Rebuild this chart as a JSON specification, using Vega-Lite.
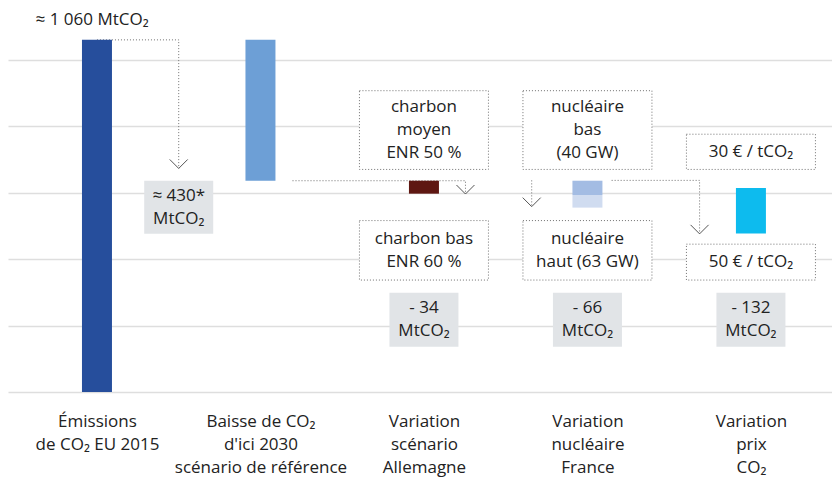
{
  "$schema": "https://vega.github.io/schema/vega-lite/v6.json",
  "width": 824,
  "height": 392,
  "padding": {"left": 8, "top": 0, "right": 0, "bottom": 20},
  "background": "white",
  "config": {
    "view": {"stroke": null},
    "font": "Open Sans",
    "text": {"font": "Open Sans", "fontSize": 17, "color": "#222222"}
  },
  "datasets": {
    "bars": [
      {"cat": 1, "lo": 0, "hi": 1060, "part": "Émissions 2015"},
      {"cat": 2, "lo": 636, "hi": 1060, "part": "Baisse référence"},
      {"cat": 3, "lo": 597, "hi": 636, "part": "Allemagne"},
      {"cat": 4, "lo": 593, "hi": 636, "part": "France bas"},
      {"cat": 4, "lo": 555, "hi": 593, "part": "France haut"},
      {"cat": 5, "lo": 477, "hi": 614, "part": "Prix CO2"}
    ],
    "boxes": [
      {"kind": "white", "xc": 3, "top": 907, "bot": 670, "mid": 788.5, "text": "charbon\nmoyen\nENR 50 %"},
      {"kind": "white", "xc": 4, "top": 907, "bot": 670, "mid": 788.5, "text": "nucléaire\nbas\n(40 GW)"},
      {"kind": "white", "xc": 3, "top": 516, "bot": 337, "mid": 426.5, "text": "charbon bas\nENR 60 %"},
      {"kind": "white", "xc": 4, "top": 516, "bot": 337, "mid": 426.5, "text": "nucléaire\nhaut (63 GW)"},
      {"kind": "white", "xc": 5, "top": 776, "bot": 670, "mid": 723, "text": "30 € / tCO₂"},
      {"kind": "white", "xc": 5, "top": 445, "bot": 337, "mid": 391, "text": "50 € / tCO₂"},
      {"kind": "gray", "xc": 1.5, "top": 636, "bot": 476, "mid": 556, "text": "≈ 430*\nMtCO₂"},
      {"kind": "gray", "xc": 3, "top": 299, "bot": 136, "mid": 217.5, "text": "- 34\nMtCO₂"},
      {"kind": "gray", "xc": 4, "top": 299, "bot": 136, "mid": 217.5, "text": "- 66\nMtCO₂"},
      {"kind": "gray", "xc": 5, "top": 299, "bot": 136, "mid": 217.5, "text": "- 132\nMtCO₂"}
    ],
    "links": [
      {"id": "a", "ord": 1, "x": 1, "y": 1060},
      {"id": "a", "ord": 2, "x": 1.5, "y": 1060},
      {"id": "a", "ord": 3, "x": 1.5, "y": 673},
      {"id": "b", "ord": 1, "x": 2.196, "y": 636},
      {"id": "b", "ord": 2, "x": 3.254, "y": 636},
      {"id": "b", "ord": 3, "x": 3.254, "y": 596},
      {"id": "c", "ord": 1, "x": 3.659, "y": 637},
      {"id": "c", "ord": 2, "x": 3.659, "y": 558},
      {"id": "d", "ord": 1, "x": 4.148, "y": 637},
      {"id": "d", "ord": 2, "x": 4.686, "y": 637},
      {"id": "d", "ord": 3, "x": 4.686, "y": 476}
    ],
    "tips": [
      {"x": 1.5, "y": 673},
      {"x": 3.254, "y": 596},
      {"x": 3.659, "y": 558},
      {"x": 4.686, "y": 476}
    ],
    "notes": [
      {"x": 0.97, "y": 1120, "text": "≈ 1 060 MtCO₂"}
    ]
  },
  "layer": [
    {
      "data": {"name": "links"},
      "mark": {"type": "line", "color": "#707070", "strokeWidth": 1, "strokeDash": [1, 2]},
      "encoding": {
        "x": {
          "field": "x", "type": "quantitative",
          "scale": {"domain": [0.4864, 5.4653], "nice": false, "zero": false},
          "axis": {
            "values": [1, 2, 3, 4, 5],
            "title": null, "grid": false, "ticks": false, "domain": false,
            "labelOverlap": false, "labelFlush": false, "labelBound": false,
            "labelFontSize": 17, "labelColor": "#222222", "labelLineHeight": 23,
            "labelPadding": 21, "labelBaseline": "top",
            "labelExpr": "datum.value == 1 ? ['Émissions', 'de CO₂ EU 2015'] : datum.value == 2 ? ['Baisse de CO₂', \"d'ici 2030\", 'scénario de référence'] : datum.value == 3 ? ['Variation', 'scénario', 'Allemagne'] : datum.value == 4 ? ['Variation', 'nucléaire', 'France'] : ['Variation', 'prix', 'CO₂']"
          }
        },
        "y": {
          "field": "y", "type": "quantitative",
          "scale": {"domain": [0, 1180], "nice": false, "zero": true},
          "axis": {
            "values": [0, 200, 400, 600, 800, 1000],
            "title": null, "labels": false, "ticks": false, "domain": false,
            "grid": true, "gridColor": "#dedede", "gridWidth": 1.5
          }
        },
        "detail": {"field": "id"},
        "order": {"field": "ord"}
      }
    },
    {
      "data": {"name": "bars"},
      "mark": {"type": "bar", "orient": "vertical", "width": 30},
      "encoding": {
        "x": {"field": "cat", "type": "quantitative"},
        "y": {"field": "hi", "type": "quantitative"},
        "y2": {"field": "lo"},
        "color": {
          "field": "part", "type": "nominal", "legend": null,
          "scale": {
            "domain": ["Émissions 2015", "Baisse référence", "Allemagne", "France bas", "France haut", "Prix CO2"],
            "range": ["#264e9c", "#6d9fd6", "#5e1712", "#a3bce3", "#d0dcf0", "#0dbbee"]
          }
        }
      }
    },
    {
      "data": {"name": "boxes"},
      "transform": [{"filter": "datum.kind == 'white'"}],
      "mark": {"type": "bar", "orient": "vertical", "width": 129, "fill": "white", "stroke": "#707070", "strokeWidth": 1, "strokeDash": [1, 2]},
      "encoding": {
        "x": {"field": "xc", "type": "quantitative"},
        "y": {"field": "top", "type": "quantitative"},
        "y2": {"field": "bot"}
      }
    },
    {
      "data": {"name": "boxes"},
      "transform": [{"filter": "datum.kind == 'gray'"}],
      "mark": {"type": "bar", "orient": "vertical", "width": 69, "fill": "#e1e4e7"},
      "encoding": {
        "x": {"field": "xc", "type": "quantitative"},
        "y": {"field": "top", "type": "quantitative"},
        "y2": {"field": "bot"}
      }
    },
    {
      "data": {"name": "boxes"},
      "transform": [{"filter": "length(split(datum.text, '\\n')) == 3"}],
      "mark": {"type": "text", "lineBreak": "\n", "lineHeight": 23, "align": "center", "baseline": "middle", "dy": -23, "fontSize": 17, "color": "#222222"},
      "encoding": {
        "x": {"field": "xc", "type": "quantitative"},
        "y": {"field": "mid", "type": "quantitative"},
        "text": {"field": "text"}
      }
    },
    {
      "data": {"name": "boxes"},
      "transform": [{"filter": "length(split(datum.text, '\\n')) == 2"}],
      "mark": {"type": "text", "lineBreak": "\n", "lineHeight": 23, "align": "center", "baseline": "middle", "dy": -11.5, "fontSize": 17, "color": "#222222"},
      "encoding": {
        "x": {"field": "xc", "type": "quantitative"},
        "y": {"field": "mid", "type": "quantitative"},
        "text": {"field": "text"}
      }
    },
    {
      "data": {"name": "boxes"},
      "transform": [{"filter": "length(split(datum.text, '\\n')) == 1"}],
      "mark": {"type": "text", "align": "center", "baseline": "middle", "fontSize": 17, "color": "#222222"},
      "encoding": {
        "x": {"field": "xc", "type": "quantitative"},
        "y": {"field": "mid", "type": "quantitative"},
        "text": {"field": "text"}
      }
    },
    {
      "data": {"name": "notes"},
      "mark": {"type": "text", "align": "center", "baseline": "middle", "fontSize": 17, "color": "#222222"},
      "encoding": {
        "x": {"field": "x", "type": "quantitative"},
        "y": {"field": "y", "type": "quantitative"},
        "text": {"field": "text"}
      }
    },
    {
      "data": {"name": "tips"},
      "mark": {"type": "point", "shape": "M-1,-1L0,0L1,-1", "size": 324, "filled": false, "color": "#555555", "strokeWidth": 1, "opacity": 1},
      "encoding": {
        "x": {"field": "x", "type": "quantitative"},
        "y": {"field": "y", "type": "quantitative"}
      }
    }
  ]
}
